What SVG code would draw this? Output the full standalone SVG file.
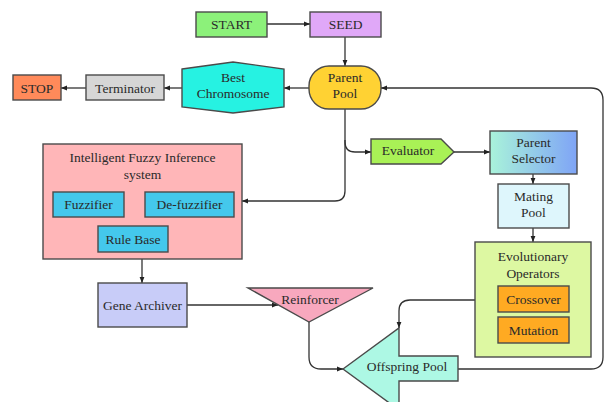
<svg xmlns="http://www.w3.org/2000/svg" width="606" height="402" viewBox="0 0 606 402">
<defs>
<linearGradient id="gSel" x1="0" y1="0" x2="1" y2="0">
<stop offset="0" stop-color="#A9F3DA"/>
<stop offset="1" stop-color="#7FA4F6"/>
</linearGradient>
<marker id="ah" viewBox="0 0 6 6" refX="6" refY="3" markerWidth="6" markerHeight="6" markerUnits="userSpaceOnUse" orient="auto">
<path d="M0,0.6 L6,3 L0,5.4 z" fill="#222"/>
</marker>
<style>
.n{stroke:#4a4a4a;stroke-width:1.4}
.t{font-family:"Liberation Serif","Times New Roman",serif;font-size:13.5px;fill:#2a2a2a;text-anchor:middle}
.c{fill:none;stroke:#333;stroke-width:1.3;marker-end:url(#ah)}
</style>
</defs>
<rect width="606" height="402" fill="#fff"/>
<g id="connectors">
<path class="c" d="M267,24 H310"/>
<path class="c" d="M345,37 V66"/>
<path class="c" d="M309,88 H284"/>
<path class="c" d="M182,88 H164"/>
<path class="c" d="M86,88 H61"/>
<path class="c" d="M345,109 V142 Q345,152 355,152 H371"/>
<path class="c" d="M345,140 V191 Q345,201 335,201 H242"/>
<path class="c" d="M454,152 H490"/>
<path class="c" d="M533,174 V184"/>
<path class="c" d="M533,228 V242"/>
<path class="c" d="M475,300 H410 Q399,300 399,311 V328"/>
<path class="c" d="M458,369 H591 Q603,369 603,357 V100 Q603,88 591,88 H381"/>
<path class="c" d="M142,259 V283"/>
<path class="c" d="M187,305 H278"/>
<path class="c" d="M309,322 V357 Q309,369 321,369 H343"/>
</g>
<g id="start"><rect class="n" x="196" y="12" width="71" height="25" fill="#8CF17A"/><text class="t" x="231.5" y="28.5">START</text></g>
<g id="seed"><rect class="n" x="310" y="12" width="71" height="25" fill="#E0A8F8"/><text class="t" x="345.5" y="28.5">SEED</text></g>
<g id="parent-pool"><rect class="n" x="309" y="66" width="72" height="43" rx="20" ry="20" fill="#FFD233"/><text class="t" x="345" y="82">Parent</text><text class="t" x="345" y="98">Pool</text></g>
<g id="best-chromosome"><polygon class="n" points="182,69 233,62 284,69 284,107 233,113 182,107" fill="#26F2E2"/><text class="t" x="233" y="82">Best</text><text class="t" x="233" y="98">Chromosome</text></g>
<g id="terminator"><rect class="n" x="86" y="75" width="78" height="25" fill="#D6D6D6"/><text class="t" x="125" y="92.5">Terminator</text></g>
<g id="stop"><rect class="n" x="13" y="75" width="48" height="25" fill="#FF8A5A"/><text class="t" x="37" y="92.5">STOP</text></g>
<g id="ifis"><rect class="n" x="43" y="144" width="199" height="115" fill="#FFB6B8"/><text class="t" x="142.5" y="162">Intelligent Fuzzy Inference</text><text class="t" x="142.5" y="179">system</text></g>
<g id="fuzzifier"><rect class="n" x="53" y="192" width="71" height="25" fill="#44C8EC"/><text class="t" x="88.5" y="209">Fuzzifier</text></g>
<g id="defuzzifier"><rect class="n" x="145" y="192" width="89" height="25" fill="#44C8EC"/><text class="t" x="189.5" y="209">De-fuzzifier</text></g>
<g id="rule-base"><rect class="n" x="98" y="226" width="70" height="26" fill="#44C8EC"/><text class="t" x="133" y="243.5">Rule Base</text></g>
<g id="gene-archiver"><rect class="n" x="98" y="283" width="89" height="44" fill="#C8CCF8"/><text class="t" x="142.5" y="309.5">Gene Archiver</text></g>
<g id="reinforcer"><polygon class="n" points="248,288 373,288 309,322" fill="#F8A8BE"/><text class="t" x="310" y="303.5">Reinforcer</text></g>
<g id="offspring-pool"><polygon class="n" points="343,369 399,328 399,356 458,356 458,381 399,381 399,410" fill="#ADF8E4"/><text class="t" x="407" y="370.5">Offspring Pool</text></g>
<g id="evaluator"><polygon class="n" points="371,139 441,139 454,152 441,164 371,164" fill="#A9F156"/><text class="t" x="408" y="154.5">Evaluator</text></g>
<g id="parent-selector"><rect class="n" x="490" y="131" width="87" height="43" fill="url(#gSel)"/><text class="t" x="533.5" y="146.5">Parent</text><text class="t" x="533.5" y="162.5">Selector</text></g>
<g id="mating-pool"><rect class="n" x="498" y="184" width="71" height="44" fill="#DEF6FC"/><text class="t" x="533.5" y="200.5">Mating</text><text class="t" x="533.5" y="216.5">Pool</text></g>
<g id="evolutionary-operators"><rect class="n" x="475" y="242" width="116" height="115" fill="#DDF8A2"/><text class="t" x="533" y="260.5">Evolutionary</text><text class="t" x="533" y="277.5">Operators</text></g>
<g id="crossover"><rect class="n" x="498" y="286" width="71" height="26" fill="#FFAA22"/><text class="t" x="533.5" y="303.5">Crossover</text></g>
<g id="mutation"><rect class="n" x="498" y="317" width="71" height="26" fill="#FFAA22"/><text class="t" x="533.5" y="334.5">Mutation</text></g>
</svg>
